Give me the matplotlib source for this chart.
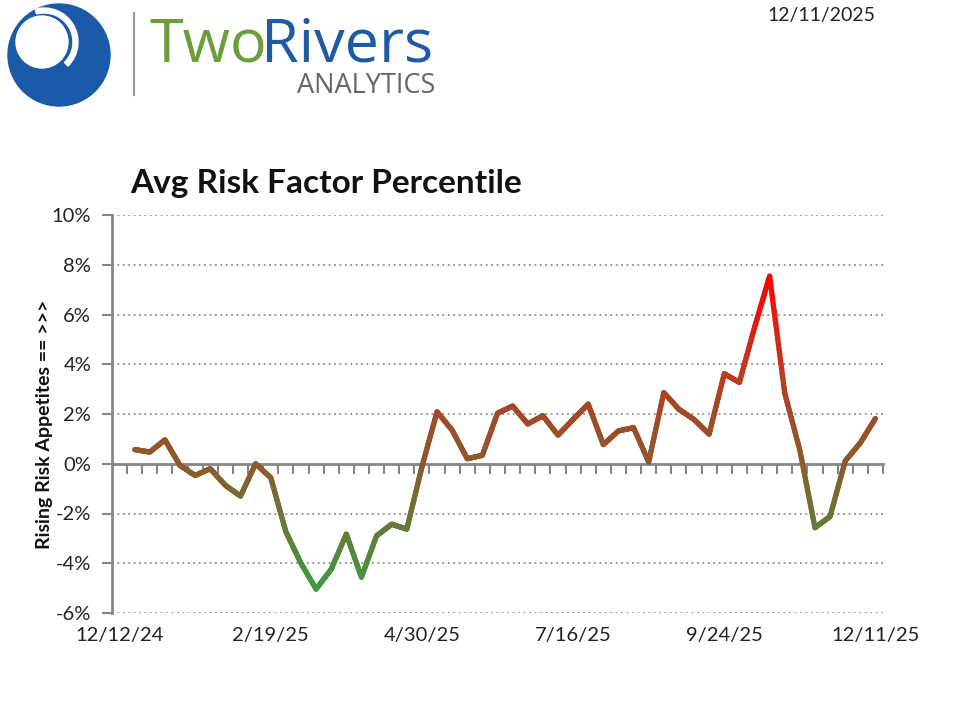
import numpy as np
import matplotlib
matplotlib.use('Agg')
import matplotlib.pyplot as plt
from matplotlib.collections import LineCollection
from matplotlib.colors import LinearSegmentedColormap, Normalize
from matplotlib.patches import Circle, Wedge

plt.rcParams['font.family'] = ['Lato', 'DejaVu Sans']

# weekly categories, first one (12/12/24) has no value
n_cats = 51
values = [0.57, 0.47, 0.96, -0.07, -0.47, -0.2, -0.87, -1.3, 0.0, -0.56,
          -2.73, -4.0, -5.04, -4.24, -2.83, -4.56, -2.9, -2.43, -2.63, -0.13,
          2.09, 1.35, 0.2, 0.34, 2.03, 2.32, 1.6, 1.93, 1.15, 1.78,
          2.4, 0.77, 1.32, 1.45, 0.07, 2.86, 2.19, 1.78, 1.19, 3.62,
          3.27, 5.47, 7.54, 2.84, 0.54, -2.57, -2.12, 0.11, 0.84, 1.82]
x_labels = ['12/12/24', '2/19/25', '4/30/25', '7/16/25', '9/24/25', '12/11/25']
x_label_pos = [0, 10, 20, 30, 40, 50]
y_ticks = [-6, -4, -2, 0, 2, 4, 6, 8, 10]

fig = plt.figure(figsize=(9.64, 7.07), dpi=100)

# decoration layer in pixel coords
deco = fig.add_axes([0, 0, 1, 1])
deco.set_xlim(0, 964)
deco.set_ylim(707, 0)
deco.axis('off')

deco.add_patch(Circle((59, 55), 51, color='#1b5aa8'))
deco.add_patch(Circle((42, 42), 26, color='white'))
deco.add_patch(Wedge((44, 42), 34, -105, 45, width=5, color='white'))
deco.plot([134, 134], [13, 95], color='#9a9a9a', lw=1.5)
deco.text(150, 61, 'Two', fontsize=44, color='#6a9e3a', va='baseline', family='Open Sans')
deco.text(261, 61, 'Rivers', fontsize=44, color='#1f5aa5', va='baseline', family='Open Sans')
deco.text(435, 93, 'ANALYTICS', fontsize=19.5, color='#666666',
          va='baseline', ha='right', family='Open Sans')
deco.text(875, 15, '12/11/2025', fontsize=14, color='#222222', ha='right', va='center')
deco.text(130, 183, 'Avg Risk Factor Percentile', fontsize=24, fontweight='bold', color='#111111', va='center')
deco.text(45, 424, 'Rising Risk Appetites == >>>', fontsize=14, fontweight='bold', rotation=90,
          ha='center', va='center', color='#111111')

ax = fig.add_axes([112/964, 1-613/707, (883-112)/964, (613-215)/707])
ax.set_xlim(-0.5, n_cats - 0.5)
ax.set_ylim(-6, 10)

ax.set_yticks(y_ticks)
ax.set_yticklabels([f'{t}%' for t in y_ticks], fontsize=14.5, color='#222222')
ax.yaxis.grid(True, color='#8c8c8c', linestyle=(0, (1, 2)), lw=1.3)
ax.set_axisbelow(True)
ax.tick_params(axis='y', direction='out', length=7, width=1.5, color='#868686', pad=8)

ax.set_xticks(x_label_pos)
ax.set_xticklabels(x_labels, fontsize=14.5, color='#222222')
ax.tick_params(axis='x', length=0, pad=10)

for s in ['top', 'right', 'bottom']:
    ax.spines[s].set_visible(False)
ax.spines['left'].set_color('#868686')
ax.spines['left'].set_linewidth(2)

# category axis crossing at zero
sec = ax.secondary_xaxis(6/16)
sec.set_xticks(np.arange(0.5, n_cats, 1))
sec.set_xticklabels([])
sec.tick_params(direction='out', length=7, width=1.5, color='#868686')
sec.spines['bottom'].set_color('#868686')
sec.spines['bottom'].set_linewidth(2)

# gradient line, coloured by height
xs = np.arange(1, n_cats)
ys = np.array(values)
segs, cvals = [], []
for i in range(len(xs) - 1):
    px = np.linspace(xs[i], xs[i+1], 25)
    py = np.linspace(ys[i], ys[i+1], 25)
    for j in range(24):
        segs.append([(px[j], py[j]), (px[j+1], py[j+1])])
        cvals.append((py[j] + py[j+1]) / 2)

stops = [(-5.2, '#3f9c45'), (-2.5, '#657a36'), (0.0, '#8c5a2c'),
         (2.0, '#a24a28'), (4.0, '#c4361f'), (7.6, '#ff0000')]
lo, hi = stops[0][0], stops[-1][0]
cmap = LinearSegmentedColormap.from_list('risk', [((v - lo)/(hi - lo), c) for v, c in stops])
lc = LineCollection(segs, array=np.array(cvals), cmap=cmap, norm=Normalize(lo, hi),
                    linewidth=3.8, capstyle='round', joinstyle='round', zorder=5)
ax.add_collection(lc)

fig.savefig('out.png', dpi=100)
